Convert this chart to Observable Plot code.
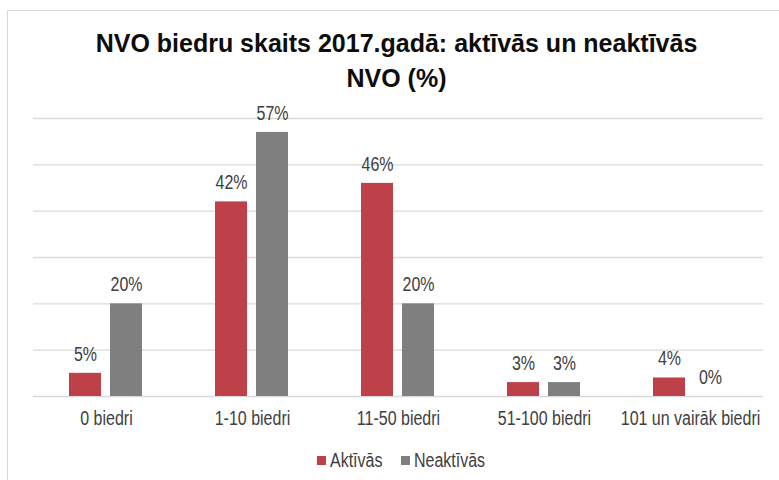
<!DOCTYPE html>
<html>
<head>
<meta charset="utf-8">
<script src="https://cdn.jsdelivr.net/npm/d3@7"></script>
<script src="https://cdn.jsdelivr.net/npm/@observablehq/plot@0.6"></script>
<style>
  html, body { margin: 0; padding: 0; background: #fff; width: 779px; height: 480px; overflow: hidden; }
  #frame { position: absolute; left: 7px; top: 10px; width: 772px; height: 470px;
           border-left: 1px solid #d9d9d9; border-top: 1px solid #d9d9d9; box-sizing: border-box; }
  #title { font-family: "Liberation Sans", Arial, sans-serif; font-weight: bold; font-size: 25px;
           line-height: 35px; text-align: center; color: #0d0d0d; padding-top: 15px; padding-left: 6px; }
  #legend { display: flex; justify-content: center; align-items: center; margin-top: 19px; padding-left: 15px;
            font-family: "Liberation Sans", Arial, sans-serif;
            font-size: 19.5px; line-height: 20px; color: #404040; }
  .item { display: flex; align-items: center; margin: 0 9px; }
  .sw { width: 9px; height: 9px; margin-right: 4px; }
  .lbl { display: inline-block; transform: scaleX(0.82); transform-origin: left center; }
  svg { display: block; }
</style>
</head>
<body>
<div id="frame">
  <div id="title">NVO biedru skaits 2017.gadā: aktīvās un neaktīvās<br>NVO (%)</div>
  <div id="chart"></div>
  <div id="legend"></div>
</div>
<script>
const categories = ["0 biedri", "1-10 biedri", "11-50 biedri", "51-100 biedri", "101 un vairāk biedri"];
const series = ["Aktīvās", "Neaktīvās"];
const aktivas = [5, 42, 46, 3, 4];
const neaktivas = [20, 57, 20, 3, 0];
const colors = ["#be4049", "#7f7f7f"];
const yTicks = [0, 10, 20, 30, 40, 50, 60];

const data = [];
categories.forEach((c, i) => {
  data.push({cat: c, series: series[0], value: aktivas[i]});
  data.push({cat: c, series: series[1], value: neaktivas[i]});
});

const font = '"Liberation Sans", Arial, sans-serif';
const narrowFactor = 0.82;

const chart = Plot.plot({
  width: 771,
  height: 335,
  marginLeft: 23,
  marginRight: 15,
  marginTop: 22,
  marginBottom: 35,
  style: {fontFamily: font, fontSize: "19.5px", color: "#404040", background: "transparent"},
  fx: {domain: categories, axis: "bottom", tickSize: 0, tickPadding: 15, label: null, paddingInner: 0, paddingOuter: 0},
  x: {domain: series, axis: null, paddingInner: 0.21, paddingOuter: 0.85},
  y: {domain: [0, 60], axis: null},
  color: {domain: series, range: colors},
  marks: [
    Plot.ruleY(yTicks, {stroke: "#d9d9d9", strokeWidth: 1.3}),
    Plot.barY(data, {fx: "cat", x: "series", y: "value", fill: "series"}),
    Plot.text(data, {fx: "cat", x: "series", y: "value", text: d => d.value + "%", dy: -19,
                     fill: "#404040", fontSize: 19.5})
  ]
});
document.getElementById("chart").appendChild(chart);

// condense text horizontally (narrow typeface look), around each label's own centre
chart.querySelectorAll("text").forEach(t => {
  const b = t.getBBox();
  const cx = b.x + b.width / 2;
  const prev = t.getAttribute("transform") || "";
  t.setAttribute("transform", `${prev} translate(${cx} 0) scale(${narrowFactor} 1) translate(${-cx} 0)`.trim());
});

const legend = document.getElementById("legend");
series.forEach((s, i) => {
  const item = document.createElement("div");
  item.className = "item";
  const sw = document.createElement("div");
  sw.className = "sw";
  sw.style.background = colors[i];
  const t = document.createElement("span");
  t.className = "lbl";
  t.textContent = s;
  item.appendChild(sw);
  item.appendChild(t);
  legend.appendChild(item);
  const w = t.getBoundingClientRect().width / narrowFactor;
  t.style.marginRight = (-(w * (1 - narrowFactor))) + "px";
});
</script>
</body>
</html>
